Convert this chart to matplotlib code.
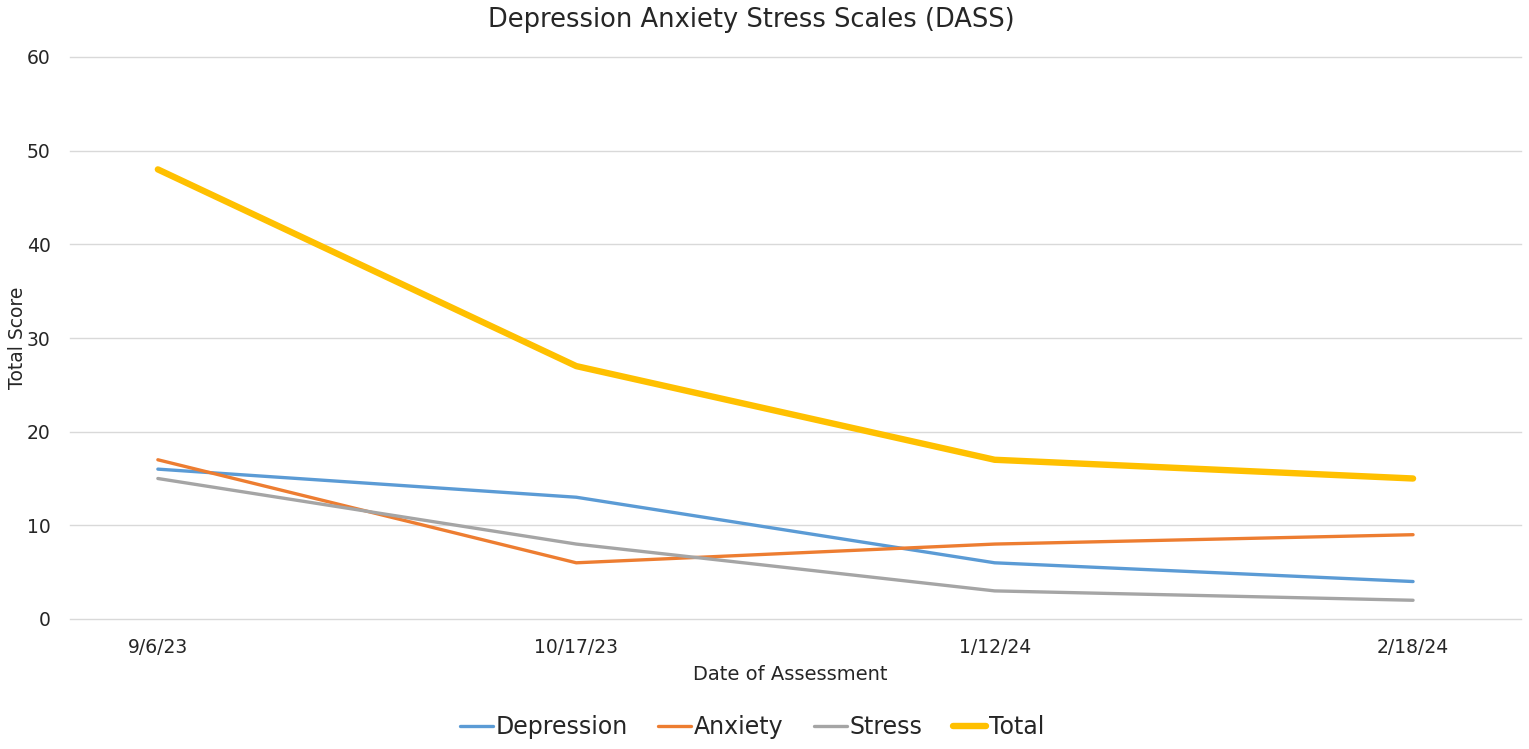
import matplotlib
matplotlib.use("Agg")
import matplotlib.pyplot as plt

dates = ["9/6/23", "10/17/23", "1/12/24", "2/18/24"]
depression = [16, 13, 6, 4]
anxiety = [17, 6, 8, 9]
stress = [15, 8, 3, 2]
total = [48, 27, 17, 15]

plt.rcParams['font.family'] = ['DejaVu Sans']

fig = plt.figure(figsize=(15.29, 7.49), dpi=100)
ax = fig.add_axes([70/1529, 1-619/749, (1521-70)/1529, (619-57)/749])

x = list(range(len(dates)))
ax.plot(x, depression, color="#5B9BD5", lw=2.4, label="Depression", solid_capstyle="round")
ax.plot(x, anxiety, color="#ED7D31", lw=2.4, label="Anxiety", solid_capstyle="round")
ax.plot(x, stress, color="#A5A5A5", lw=2.4, label="Stress", solid_capstyle="round")
ax.plot(x, total, color="#FFC000", lw=4.6, label="Total", solid_capstyle="round")

ax.set_ylim(0, 60)
ax.set_yticks(range(0, 61, 10))
ax.set_xlim(-0.21, 3.258)
ax.set_xticks(x)
ax.set_xticklabels(dates)
ax.grid(axis="y", color="#D9D9D9", lw=1)
for gl in ax.get_ygridlines():
    gl.set_clip_on(False)
ax.set_axisbelow(True)
for s in ax.spines.values():
    s.set_visible(False)
ax.tick_params(length=0, labelsize=13.5, colors="#262626", pad=14)
ax.tick_params(axis="y", pad=14)

fig.text(751/1529, 1-20/749, "Depression Anxiety Stress Scales (DASS)", ha="center", va="center",
         fontsize=18.5, color="#262626")
fig.text(790/1529, 1-674/749, "Date of Assessment", ha="center", va="center", fontsize=14, color="#262626")
fig.text(18/1529, 1-338/749, "Total Score", ha="center", va="center", rotation=90, fontsize=13.5, color="#262626")

handles, labels = ax.get_legend_handles_labels()
fig.legend(handles, labels, loc="center", bbox_to_anchor=(752/1529, 1-727/749), ncol=4, frameon=False,
           fontsize=17, handlelength=1.4, handletextpad=0.1, columnspacing=1.3, labelcolor="#262626")

fig.savefig("out.png", dpi=100)
